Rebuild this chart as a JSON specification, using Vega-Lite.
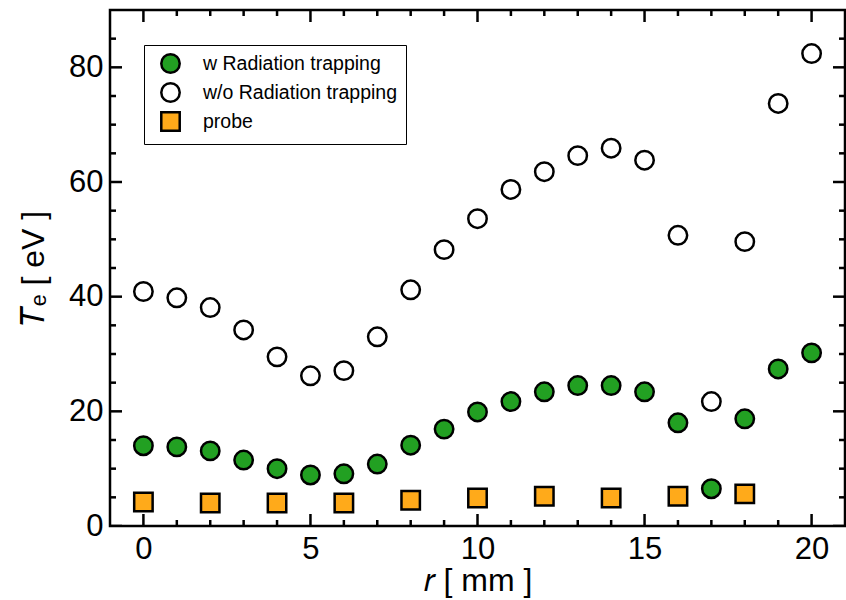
{
  "$schema": "https://vega.github.io/schema/vega-lite/v6.json",
  "width": 735,
  "height": 516,
  "autosize": {"type": "none"},
  "padding": {"left": 110, "top": 10, "right": 1, "bottom": 74},
  "background": "white",
  "config": {
    "view": {"stroke": "black", "strokeWidth": 2.5},
    "font": "Liberation Sans",
    "axis": {"domain": false, "grid": false, "ticks": false, "labelColor": "black", "labelFontSize": 31, "titleFontSize": 32, "titleFontWeight": "normal", "titleColor": "black", "labelFont": "Liberation Sans", "titleFont": "Liberation Sans"}
  },
  "datasets": {
    "xticks": [
      {"v": 0, "kind": "major"}, {"v": 1, "kind": "minor"}, {"v": 2, "kind": "minor"}, {"v": 3, "kind": "minor"}, {"v": 4, "kind": "minor"},
      {"v": 5, "kind": "major"}, {"v": 6, "kind": "minor"}, {"v": 7, "kind": "minor"}, {"v": 8, "kind": "minor"}, {"v": 9, "kind": "minor"},
      {"v": 10, "kind": "major"}, {"v": 11, "kind": "minor"}, {"v": 12, "kind": "minor"}, {"v": 13, "kind": "minor"}, {"v": 14, "kind": "minor"},
      {"v": 15, "kind": "major"}, {"v": 16, "kind": "minor"}, {"v": 17, "kind": "minor"}, {"v": 18, "kind": "minor"}, {"v": 19, "kind": "minor"},
      {"v": 20, "kind": "major"}
    ],
    "yticks": [
      {"v": 0, "kind": "major"}, {"v": 5, "kind": "minor"}, {"v": 10, "kind": "minor"}, {"v": 15, "kind": "minor"},
      {"v": 20, "kind": "major"}, {"v": 25, "kind": "minor"}, {"v": 30, "kind": "minor"}, {"v": 35, "kind": "minor"},
      {"v": 40, "kind": "major"}, {"v": 45, "kind": "minor"}, {"v": 50, "kind": "minor"}, {"v": 55, "kind": "minor"},
      {"v": 60, "kind": "major"}, {"v": 65, "kind": "minor"}, {"v": 70, "kind": "minor"}, {"v": 75, "kind": "minor"},
      {"v": 80, "kind": "major"}, {"v": 85, "kind": "minor"}
    ],
    "points": [
      {"r": 0, "Te": 14.0, "series": "w Radiation trapping"},
      {"r": 1, "Te": 13.8, "series": "w Radiation trapping"},
      {"r": 2, "Te": 13.1, "series": "w Radiation trapping"},
      {"r": 3, "Te": 11.5, "series": "w Radiation trapping"},
      {"r": 4, "Te": 10.0, "series": "w Radiation trapping"},
      {"r": 5, "Te": 8.9, "series": "w Radiation trapping"},
      {"r": 6, "Te": 9.1, "series": "w Radiation trapping"},
      {"r": 7, "Te": 10.8, "series": "w Radiation trapping"},
      {"r": 8, "Te": 14.1, "series": "w Radiation trapping"},
      {"r": 9, "Te": 16.9, "series": "w Radiation trapping"},
      {"r": 10, "Te": 19.9, "series": "w Radiation trapping"},
      {"r": 11, "Te": 21.7, "series": "w Radiation trapping"},
      {"r": 12, "Te": 23.4, "series": "w Radiation trapping"},
      {"r": 13, "Te": 24.5, "series": "w Radiation trapping"},
      {"r": 14, "Te": 24.5, "series": "w Radiation trapping"},
      {"r": 15, "Te": 23.4, "series": "w Radiation trapping"},
      {"r": 16, "Te": 18.0, "series": "w Radiation trapping"},
      {"r": 17, "Te": 6.5, "series": "w Radiation trapping"},
      {"r": 18, "Te": 18.7, "series": "w Radiation trapping"},
      {"r": 19, "Te": 27.4, "series": "w Radiation trapping"},
      {"r": 20, "Te": 30.2, "series": "w Radiation trapping"},
      {"r": 0, "Te": 40.9, "series": "w/o Radiation trapping"},
      {"r": 1, "Te": 39.8, "series": "w/o Radiation trapping"},
      {"r": 2, "Te": 38.1, "series": "w/o Radiation trapping"},
      {"r": 3, "Te": 34.2, "series": "w/o Radiation trapping"},
      {"r": 4, "Te": 29.5, "series": "w/o Radiation trapping"},
      {"r": 5, "Te": 26.2, "series": "w/o Radiation trapping"},
      {"r": 6, "Te": 27.1, "series": "w/o Radiation trapping"},
      {"r": 7, "Te": 33.0, "series": "w/o Radiation trapping"},
      {"r": 8, "Te": 41.2, "series": "w/o Radiation trapping"},
      {"r": 9, "Te": 48.2, "series": "w/o Radiation trapping"},
      {"r": 10, "Te": 53.6, "series": "w/o Radiation trapping"},
      {"r": 11, "Te": 58.7, "series": "w/o Radiation trapping"},
      {"r": 12, "Te": 61.8, "series": "w/o Radiation trapping"},
      {"r": 13, "Te": 64.6, "series": "w/o Radiation trapping"},
      {"r": 14, "Te": 65.9, "series": "w/o Radiation trapping"},
      {"r": 15, "Te": 63.8, "series": "w/o Radiation trapping"},
      {"r": 16, "Te": 50.7, "series": "w/o Radiation trapping"},
      {"r": 17, "Te": 21.7, "series": "w/o Radiation trapping"},
      {"r": 18, "Te": 49.6, "series": "w/o Radiation trapping"},
      {"r": 19, "Te": 73.7, "series": "w/o Radiation trapping"},
      {"r": 20, "Te": 82.4, "series": "w/o Radiation trapping"},
      {"r": 0, "Te": 4.2, "series": "probe"},
      {"r": 2, "Te": 4.0, "series": "probe"},
      {"r": 4, "Te": 4.0, "series": "probe"},
      {"r": 6, "Te": 4.0, "series": "probe"},
      {"r": 8, "Te": 4.5, "series": "probe"},
      {"r": 10, "Te": 4.9, "series": "probe"},
      {"r": 12, "Te": 5.2, "series": "probe"},
      {"r": 14, "Te": 4.9, "series": "probe"},
      {"r": 16, "Te": 5.2, "series": "probe"},
      {"r": 18, "Te": 5.6, "series": "probe"}
    ]
  },
  "resolve": {"axis": {"x": "independent", "y": "independent"}},
  "layer": [
    {
      "data": {"name": "xticks"},
      "transform": [{"filter": "datum.kind === 'major'"}],
      "mark": {"type": "tick", "orient": "vertical", "size": 24, "thickness": 2.5, "color": "black", "opacity": 1, "clip": true},
      "encoding": {
        "x": {"field": "v", "type": "quantitative", "scale": {"domain": [-1, 21], "nice": false, "zero": false}, "axis": null},
        "y": {"datum": 0, "type": "quantitative", "scale": {"domain": [0, 90], "nice": false}, "axis": null}
      }
    },
    {
      "data": {"name": "xticks"},
      "transform": [{"filter": "datum.kind === 'major'"}],
      "mark": {"type": "tick", "orient": "vertical", "size": 24, "thickness": 2.5, "color": "black", "opacity": 1, "clip": true},
      "encoding": {
        "x": {"field": "v", "type": "quantitative", "axis": null},
        "y": {"datum": 90, "type": "quantitative", "axis": null}
      }
    },
    {
      "data": {"name": "xticks"},
      "transform": [{"filter": "datum.kind === 'minor'"}],
      "mark": {"type": "tick", "orient": "vertical", "size": 12, "thickness": 2.5, "color": "black", "opacity": 1, "clip": true},
      "encoding": {
        "x": {"field": "v", "type": "quantitative", "axis": null},
        "y": {"datum": 0, "type": "quantitative", "axis": null}
      }
    },
    {
      "data": {"name": "xticks"},
      "transform": [{"filter": "datum.kind === 'minor'"}],
      "mark": {"type": "tick", "orient": "vertical", "size": 12, "thickness": 2.5, "color": "black", "opacity": 1, "clip": true},
      "encoding": {
        "x": {"field": "v", "type": "quantitative", "axis": null},
        "y": {"datum": 90, "type": "quantitative", "axis": null}
      }
    },
    {
      "data": {"name": "yticks"},
      "transform": [{"filter": "datum.kind === 'major'"}],
      "mark": {"type": "tick", "orient": "horizontal", "size": 24, "thickness": 2.5, "color": "black", "opacity": 1, "clip": true},
      "encoding": {
        "y": {"field": "v", "type": "quantitative", "axis": null},
        "x": {"datum": -1, "type": "quantitative", "axis": null}
      }
    },
    {
      "data": {"name": "yticks"},
      "transform": [{"filter": "datum.kind === 'major'"}],
      "mark": {"type": "tick", "orient": "horizontal", "size": 24, "thickness": 2.5, "color": "black", "opacity": 1, "clip": true},
      "encoding": {
        "y": {"field": "v", "type": "quantitative", "axis": null},
        "x": {"datum": 21, "type": "quantitative", "axis": null}
      }
    },
    {
      "data": {"name": "yticks"},
      "transform": [{"filter": "datum.kind === 'minor'"}],
      "mark": {"type": "tick", "orient": "horizontal", "size": 12, "thickness": 2.5, "color": "black", "opacity": 1, "clip": true},
      "encoding": {
        "y": {"field": "v", "type": "quantitative", "axis": null},
        "x": {"datum": -1, "type": "quantitative", "axis": null}
      }
    },
    {
      "data": {"name": "yticks"},
      "transform": [{"filter": "datum.kind === 'minor'"}],
      "mark": {"type": "tick", "orient": "horizontal", "size": 12, "thickness": 2.5, "color": "black", "opacity": 1, "clip": true},
      "encoding": {
        "y": {"field": "v", "type": "quantitative", "axis": null},
        "x": {"datum": 21, "type": "quantitative", "axis": null}
      }
    },
    {
      "data": {"name": "points"},
      "mark": {"type": "point", "filled": true, "stroke": "black", "strokeWidth": 2.5, "opacity": 1, "size": 340},
      "encoding": {
        "x": {"field": "r", "type": "quantitative",
          "axis": {"orient": "bottom", "values": [0,5,10,15,20], "labelPadding": 8, "title": "𝑟 [ mm ]", "titlePadding": 1}},
        "y": {"field": "Te", "type": "quantitative",
          "axis": {"orient": "left", "values": [0,20,40,60,80], "labelPadding": 7, "title": "𝑇ₑ [ eV ]", "titlePadding": 18}},
        "fill": {"field": "series", "type": "nominal",
          "scale": {"domain": ["w Radiation trapping", "w/o Radiation trapping", "probe"], "range": ["#22a022", "#ffffff", "#ffaa1a"]},
          "legend": {"title": null, "orient": "none", "legendX": 34, "legendY": 35, "strokeColor": "black", "fillColor": "white",
            "padding": 8, "symbolOffset": 8, "labelFontSize": 19.5, "labelLimit": 400, "labelColor": "black", "labelFont": "Liberation Sans", "symbolSize": 340, "symbolStrokeWidth": 2.5, "symbolStrokeColor": "black", "labelOffset": 22, "rowPadding": 0,
            "encode": {"legend": {"update": {"strokeWidth": {"value": 2}}}}}},
        "shape": {"field": "series", "type": "nominal",
          "scale": {"domain": ["w Radiation trapping", "w/o Radiation trapping", "probe"], "range": ["circle", "circle", "square"]}}
      }
    }
  ]
}
